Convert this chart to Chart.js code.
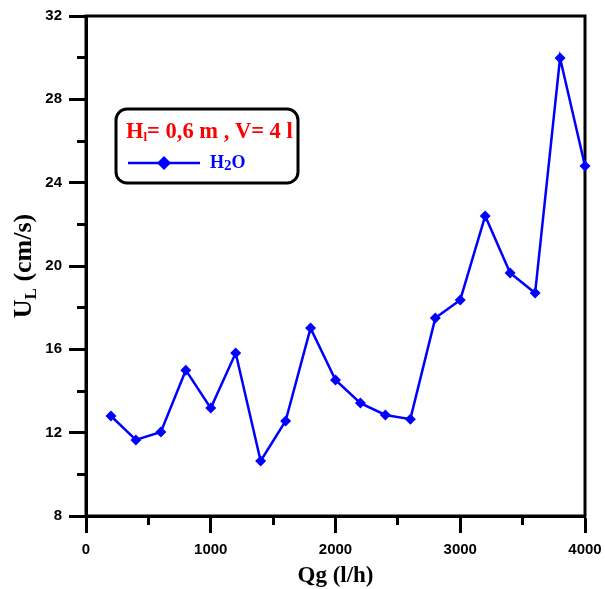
<!DOCTYPE html>
<html>
<head>
<meta charset="utf-8">
<script src="https://cdn.jsdelivr.net/npm/chart.js@4.4.1/dist/chart.umd.min.js"></script>
<style>
  html, body { margin: 0; padding: 0; background: #fff; }
  canvas { display: block; }
</style>
</head>
<body>
<canvas id="chart" width="605" height="589"></canvas>
<script>
// gas flow rate Qg (l/h)
const flowRates = [200, 400, 600, 800, 1000, 1200, 1400, 1600, 1800, 2000,
  2200, 2400, 2600, 2800, 3000, 3200, 3400, 3600, 3800, 4000];
// liquid velocity UL (cm/s)
const velocities = [12.8, 11.65, 12.03, 15.0, 13.18, 15.82, 10.64, 12.56, 17.02, 14.53,
  13.42, 12.85, 12.65, 17.5, 18.37, 22.4, 19.66, 18.7, 29.98, 24.8];

const xMajorTicks = [0, 1000, 2000, 3000, 4000];
const yMajorTicks = [8, 12, 16, 20, 24, 28, 32];

const seriesName = "H2O";
// [text, subscript?]
const seriesLabelParts = [["H", false], ["2", true], ["O", false]];
const boxTitleParts = [["H", false], ["l", true], ["= 0,6 m , V= 4 l", false]];
const xTitleParts = [["Qg (l/h)", false]];
const yTitleParts = [["U", false], ["L", true], [" (cm/s)", false]];

const BLUE = "#0000ff";
const RED = "#ff0000";
const SERIF = "'Liberation Serif', 'Times New Roman', serif";
const SANS = "'Liberation Sans', Arial, sans-serif";

function drawParts(ctx, parts, x, y, size, subSize, subShift, align) {
  let total = 0;
  for (const [t, sub] of parts) {
    ctx.font = "bold " + (sub ? subSize : size) + "px " + SERIF;
    total += ctx.measureText(t).width;
  }
  let cx = align === "center" ? x - total / 2 : x;
  ctx.textAlign = "left";
  ctx.textBaseline = "alphabetic";
  for (const [t, sub] of parts) {
    ctx.font = "bold " + (sub ? subSize : size) + "px " + SERIF;
    ctx.fillText(t, cx, sub ? y + subShift : y);
    cx += ctx.measureText(t).width;
  }
}

const framePlugin = {
  id: "frame",
  beforeDatasetsDraw(chart) {
    const { ctx, chartArea: a } = chart;
    ctx.save();
    ctx.strokeStyle = "#000";
    ctx.lineWidth = 3;
    ctx.strokeRect(a.left, a.top, a.right - a.left, a.bottom - a.top);
    ctx.restore();
  },
  afterDraw(chart) {
    const { ctx, chartArea: a } = chart;
    ctx.save();
    ctx.fillStyle = "#000";
    // x title
    drawParts(ctx, xTitleParts, (a.left + a.right) / 2, 582, 23, 16, 5, "center");
    // y title
    ctx.translate(31, (a.top + a.bottom) / 2);
    ctx.rotate(-Math.PI / 2);
    drawParts(ctx, yTitleParts, 0, 0, 26, 17, 5, "center");
    ctx.restore();

    // legend box
    ctx.save();
    ctx.strokeStyle = "#000";
    ctx.lineWidth = 3;
    ctx.beginPath();
    ctx.roundRect(116, 109, 182, 74, 11);
    ctx.stroke();
    ctx.fillStyle = RED;
    drawParts(ctx, boxTitleParts, 126, 138, 22.5, 13, 3, "left");
    ctx.strokeStyle = BLUE;
    ctx.lineWidth = 2.5;
    ctx.beginPath();
    ctx.moveTo(128, 163);
    ctx.lineTo(200, 163);
    ctx.stroke();
    ctx.fillStyle = BLUE;
    ctx.beginPath();
    ctx.moveTo(164, 156);
    ctx.lineTo(171, 163);
    ctx.lineTo(164, 170);
    ctx.lineTo(157, 163);
    ctx.closePath();
    ctx.fill();
    drawParts(ctx, seriesLabelParts, 210, 168, 18, 15, 2, "left");
    ctx.restore();
  }
};

const tickFont = { family: SANS, size: 15, weight: "bold" };
const plain = (v) => String(v);

new Chart(document.getElementById("chart"), {
  type: "line",
  data: {
    datasets: [
      {
        label: seriesName,
        data: flowRates.map((q, i) => ({ x: q, y: velocities[i] })),
        borderColor: BLUE,
        backgroundColor: BLUE,
        borderWidth: 2.5,
        pointStyle: "rectRot",
        pointRadius: 5.5,
        pointHoverRadius: 5.5,
        pointBorderWidth: 0,
        tension: 0,
        clip: false,
      },
    ],
  },
  options: {
    responsive: false,
    animation: false,
    devicePixelRatio: 1,
    layout: { padding: { top: 16, right: 20, left: 0, bottom: 0 } },
    plugins: {
      legend: { display: false },
      tooltip: { enabled: false },
    },
    scales: {
      x: {
        type: "linear",
        position: "bottom",
        weight: 1,
        min: 0,
        max: 4000,
        afterBuildTicks: (s) => { s.ticks = xMajorTicks.map((v) => ({ value: v })); },
        afterFit: (s) => { s.height = 73; s.paddingRight = 0; s.paddingLeft = 0; },
        border: { display: true, color: "#000", width: 3 },
        grid: { drawOnChartArea: false, tickLength: 17, tickWidth: 3, tickColor: "#000" },
        ticks: { color: "#000", font: tickFont, padding: 8, maxRotation: 0, callback: plain },
      },
      xMinor: {
        type: "linear",
        position: "bottom",
        weight: 0,
        min: 0,
        max: 4000,
        afterBuildTicks: (s) => {
          s.ticks = xMajorTicks.slice(0, -1).map((v) => ({ value: v + 500 }));
        },
        afterFit: (s) => { s.height = 0; },
        border: { display: false },
        grid: { drawOnChartArea: false, tickLength: 9, tickWidth: 3, tickColor: "#000" },
        ticks: { display: false },
      },
      y: {
        type: "linear",
        position: "left",
        weight: 1,
        min: 8,
        max: 32,
        afterBuildTicks: (s) => { s.ticks = yMajorTicks.map((v) => ({ value: v })); },
        afterFit: (s) => { s.width = 86; s.paddingTop = 0; s.paddingBottom = 0; },
        border: { display: true, color: "#000", width: 3 },
        grid: { drawOnChartArea: false, tickLength: 17, tickWidth: 3, tickColor: "#000" },
        ticks: { color: "#000", font: tickFont, padding: 7, callback: plain },
      },
      yMinor: {
        type: "linear",
        position: "left",
        weight: 0,
        min: 8,
        max: 32,
        afterBuildTicks: (s) => {
          s.ticks = yMajorTicks.slice(0, -1).map((v) => ({ value: v + 2 }));
        },
        afterFit: (s) => { s.width = 0; },
        border: { display: false },
        grid: { drawOnChartArea: false, tickLength: 9, tickWidth: 3, tickColor: "#000" },
        ticks: { display: false },
      },
    },
  },
  plugins: [framePlugin],
});
</script>
</body>
</html>
